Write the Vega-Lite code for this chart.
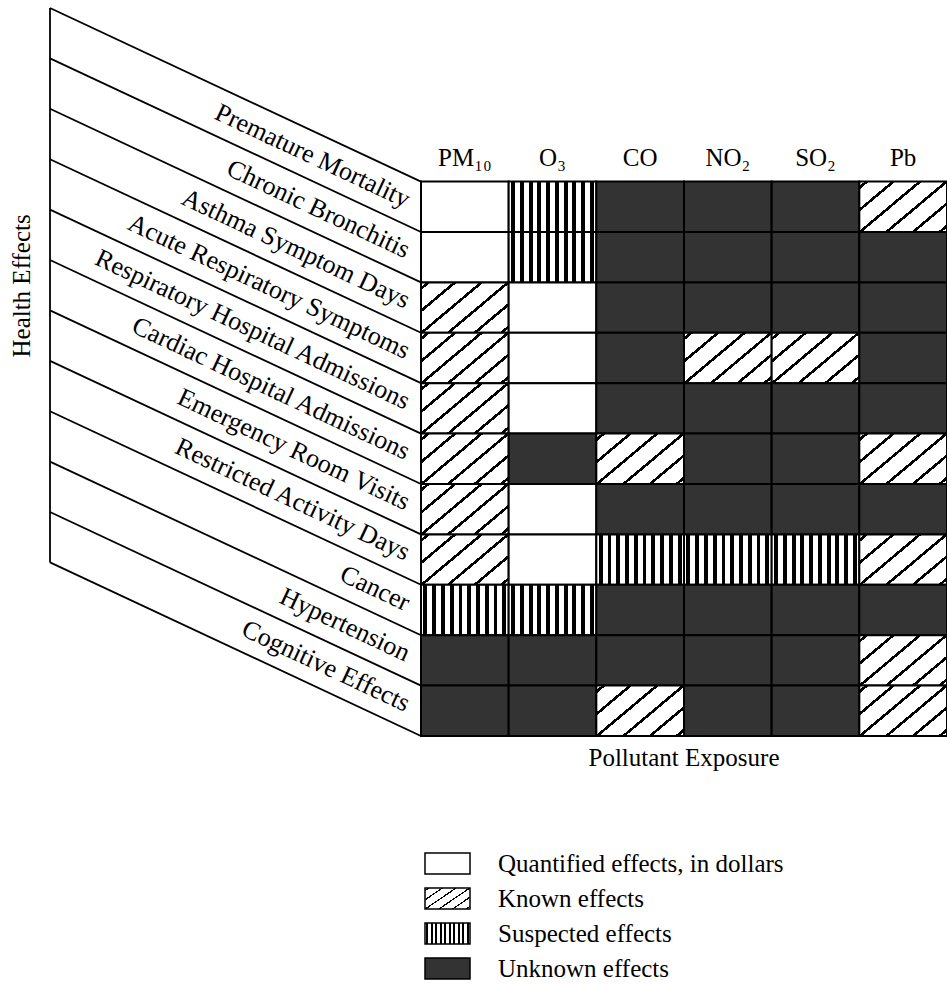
{
  "$schema": "https://vega.github.io/schema/vega-lite/v6.json",
  "width": 897,
  "height": 728,
  "autosize": {"type": "none"},
  "padding": {"left": 50, "top": 8, "right": 0, "bottom": 249},
  "background": "white",
  "config": {
    "view": {"stroke": null},
    "font": "Liberation Serif",
    "text": {"font": "Liberation Serif", "fontSize": 25, "color": "black"}
  },
  "datasets": {
    "grid": [
      {"effect": "Premature Mortality", "PM10": "Q", "O3": "S", "CO": "U", "NO2": "U", "SO2": "U", "Pb": "K"},
      {"effect": "Chronic Bronchitis", "PM10": "Q", "O3": "S", "CO": "U", "NO2": "U", "SO2": "U", "Pb": "U"},
      {"effect": "Asthma Symptom Days", "PM10": "K", "O3": "Q", "CO": "U", "NO2": "U", "SO2": "U", "Pb": "U"},
      {"effect": "Acute Respiratory Symptoms", "PM10": "K", "O3": "Q", "CO": "U", "NO2": "K", "SO2": "K", "Pb": "U"},
      {"effect": "Respiratory Hospital Admissions", "PM10": "K", "O3": "Q", "CO": "U", "NO2": "U", "SO2": "U", "Pb": "U"},
      {"effect": "Cardiac Hospital Admissions", "PM10": "K", "O3": "U", "CO": "K", "NO2": "U", "SO2": "U", "Pb": "K"},
      {"effect": "Emergency Room Visits", "PM10": "K", "O3": "Q", "CO": "U", "NO2": "U", "SO2": "U", "Pb": "U"},
      {"effect": "Restricted Activity Days", "PM10": "K", "O3": "Q", "CO": "S", "NO2": "S", "SO2": "S", "Pb": "K"},
      {"effect": "Cancer", "PM10": "S", "O3": "S", "CO": "U", "NO2": "U", "SO2": "U", "Pb": "U"},
      {"effect": "Hypertension", "PM10": "U", "O3": "U", "CO": "U", "NO2": "U", "SO2": "U", "Pb": "K"},
      {"effect": "Cognitive Effects", "PM10": "U", "O3": "U", "CO": "K", "NO2": "U", "SO2": "U", "Pb": "K"}
    ],
    "cols": [
      {"pollutant": "PM10", "label": "PM₁₀"},
      {"pollutant": "O3", "label": "O₃"},
      {"pollutant": "CO", "label": "CO"},
      {"pollutant": "NO2", "label": "NO₂"},
      {"pollutant": "SO2", "label": "SO₂"},
      {"pollutant": "Pb", "label": "Pb"}
    ],
    "edges": [
      {"k": 0, "yl": -3.444, "yr": 0},
      {"k": 1, "yl": -2.444, "yr": 1},
      {"k": 2, "yl": -1.444, "yr": 2},
      {"k": 3, "yl": -0.444, "yr": 3},
      {"k": 4, "yl": 0.556, "yr": 4},
      {"k": 5, "yl": 1.556, "yr": 5},
      {"k": 6, "yl": 2.556, "yr": 6},
      {"k": 7, "yl": 3.556, "yr": 7},
      {"k": 8, "yl": 4.556, "yr": 8},
      {"k": 9, "yl": 5.556, "yr": 9},
      {"k": 10, "yl": 6.556, "yr": 10},
      {"k": 11, "yl": 7.556, "yr": 11}
    ]
  },
  "resolve": {"scale": {"x": "independent", "y": "independent"}},
  "layer": [
    {
      "data": {"name": "grid"},
      "transform": [{"fold": ["PM10", "O3", "CO", "NO2", "SO2", "Pb"], "as": ["pollutant", "status"]}],
      "mark": {"type": "rect", "stroke": "black", "strokeWidth": 2},
      "encoding": {
        "x": {"field": "pollutant", "type": "nominal", "axis": null,
          "scale": {"type": "band", "domain": ["~1", "~2", "~3", "~4", "PM10", "O3", "CO", "NO2", "SO2", "Pb"], "paddingInner": 0, "paddingOuter": 0.116, "align": 1, "round": false}},
        "y": {"field": "effect", "type": "nominal", "axis": null,
          "scale": {"type": "band", "domain": ["~1", "~2", "~3", "Premature Mortality", "Chronic Bronchitis", "Asthma Symptom Days", "Acute Respiratory Symptoms", "Respiratory Hospital Admissions", "Cardiac Hospital Admissions", "Emergency Room Visits", "Restricted Activity Days", "Cancer", "Hypertension", "Cognitive Effects"], "paddingInner": 0, "paddingOuter": 0.222, "align": 1, "round": false}},
        "fill": {"field": "status", "type": "nominal",
          "scale": {"domain": ["Q", "K", "S", "U"],
            "range": [
              {"expr": "'#ffffff'"},
              {"expr": "{gradient:'linear',x1:0,y1:0,x2:1.147,y2:0.786,stops:[{offset:0,color:'#fff'},{offset:0.036,color:'#fff'},{offset:0.036,color:'#000'},{offset:0.064,color:'#000'},{offset:0.064,color:'#fff'},{offset:0.216,color:'#fff'},{offset:0.216,color:'#000'},{offset:0.244,color:'#000'},{offset:0.244,color:'#fff'},{offset:0.396,color:'#fff'},{offset:0.396,color:'#000'},{offset:0.424,color:'#000'},{offset:0.424,color:'#fff'},{offset:0.576,color:'#fff'},{offset:0.576,color:'#000'},{offset:0.604,color:'#000'},{offset:0.604,color:'#fff'},{offset:0.756,color:'#fff'},{offset:0.756,color:'#000'},{offset:0.784,color:'#000'},{offset:0.784,color:'#fff'},{offset:0.936,color:'#fff'},{offset:0.936,color:'#000'},{offset:0.964,color:'#000'},{offset:0.964,color:'#fff'},{offset:1,color:'#fff'}]}"},
              {"expr": "{gradient:'linear',x1:0,y1:0,x2:1,y2:0,stops:[{offset:0,color:'#fff'},{offset:0.028,color:'#fff'},{offset:0.028,color:'#000'},{offset:0.072,color:'#000'},{offset:0.072,color:'#fff'},{offset:0.128,color:'#fff'},{offset:0.128,color:'#000'},{offset:0.172,color:'#000'},{offset:0.172,color:'#fff'},{offset:0.228,color:'#fff'},{offset:0.228,color:'#000'},{offset:0.272,color:'#000'},{offset:0.272,color:'#fff'},{offset:0.328,color:'#fff'},{offset:0.328,color:'#000'},{offset:0.372,color:'#000'},{offset:0.372,color:'#fff'},{offset:0.428,color:'#fff'},{offset:0.428,color:'#000'},{offset:0.472,color:'#000'},{offset:0.472,color:'#fff'},{offset:0.528,color:'#fff'},{offset:0.528,color:'#000'},{offset:0.572,color:'#000'},{offset:0.572,color:'#fff'},{offset:0.628,color:'#fff'},{offset:0.628,color:'#000'},{offset:0.672,color:'#000'},{offset:0.672,color:'#fff'},{offset:0.728,color:'#fff'},{offset:0.728,color:'#000'},{offset:0.772,color:'#000'},{offset:0.772,color:'#fff'},{offset:0.828,color:'#fff'},{offset:0.828,color:'#000'},{offset:0.872,color:'#000'},{offset:0.872,color:'#fff'},{offset:0.928,color:'#fff'},{offset:0.928,color:'#000'},{offset:0.972,color:'#000'},{offset:0.972,color:'#fff'},{offset:1,color:'#fff'}]}"},
              {"expr": "'#333333'"}
            ]},
          "legend": {
            "title": null,
            "orient": "none",
            "legendX": 385,
            "legendY": 843,
            "padding": 0,
            "symbolType": "M-2.143,-1H2.143V1H-2.143Z",
            "symbolSize": 441,
            "symbolStrokeColor": "black",
            "symbolStrokeWidth": 1.5,
            "labelFont": "Liberation Serif",
            "labelFontSize": 25,
            "labelColor": "black",
            "labelOffset": 38,
            "labelLimit": 600,
            "rowPadding": 8,
            "labelExpr": "{'Q':'Quantified effects, in dollars','K':'Known effects','S':'Suspected effects','U':'Unknown effects'}[datum.label]",
            "encode": {
              "symbols": {
                "update": {
                  "stroke": {"value": "black"},
                  "strokeWidth": {"value": 1.5},
                  "fill": [
                    {"test": "datum.value === 'K'", "value": {"gradient": "linear", "x1": 0, "y1": 0, "x2": 1.204, "y2": 0.562, "stops": [
                      {"offset": 0, "color": "#fff"}, {"offset": 0.17, "color": "#fff"}, {"offset": 0.17, "color": "#000"}, {"offset": 0.23, "color": "#000"}, {"offset": 0.23, "color": "#fff"},
                      {"offset": 0.47, "color": "#fff"}, {"offset": 0.47, "color": "#000"}, {"offset": 0.53, "color": "#000"}, {"offset": 0.53, "color": "#fff"},
                      {"offset": 0.77, "color": "#fff"}, {"offset": 0.77, "color": "#000"}, {"offset": 0.83, "color": "#000"}, {"offset": 0.83, "color": "#fff"}, {"offset": 1, "color": "#fff"}]}},
                    {"test": "datum.value === 'S'", "value": {"gradient": "linear", "x1": 0, "y1": 0, "x2": 1, "y2": 0, "stops": [
                      {"offset": 0, "color": "#fff"}, {"offset": 0.065, "color": "#fff"}, {"offset": 0.065, "color": "#000"}, {"offset": 0.185, "color": "#000"}, {"offset": 0.185, "color": "#fff"},
                      {"offset": 0.315, "color": "#fff"}, {"offset": 0.315, "color": "#000"}, {"offset": 0.435, "color": "#000"}, {"offset": 0.435, "color": "#fff"},
                      {"offset": 0.565, "color": "#fff"}, {"offset": 0.565, "color": "#000"}, {"offset": 0.685, "color": "#000"}, {"offset": 0.685, "color": "#fff"},
                      {"offset": 0.815, "color": "#fff"}, {"offset": 0.815, "color": "#000"}, {"offset": 0.935, "color": "#000"}, {"offset": 0.935, "color": "#fff"}, {"offset": 1, "color": "#fff"}]}},
                    {"test": "datum.value === 'U'", "value": "#333333"},
                    {"value": "#ffffff"}
                  ]
                }
              }
            }
          }
        }
      }
    },
    {
      "data": {"name": "grid"},
      "mark": {"type": "text", "angle": 25.1, "align": "right", "baseline": "middle", "dx": -14, "fontSize": 26, "font": "Liberation Serif"},
      "encoding": {
        "x": {"datum": 0, "type": "quantitative", "axis": null, "scale": {"domain": [-4.232, 6], "nice": false, "zero": false}},
        "y": {"field": "effect", "type": "nominal", "axis": null, "bandPosition": 0.5,
          "scale": {"type": "band", "domain": ["~1", "~2", "~3", "Premature Mortality", "Chronic Bronchitis", "Asthma Symptom Days", "Acute Respiratory Symptoms", "Respiratory Hospital Admissions", "Cardiac Hospital Admissions", "Emergency Room Visits", "Restricted Activity Days", "Cancer", "Hypertension", "Cognitive Effects"], "paddingInner": 0, "paddingOuter": 0.222, "align": 1, "round": false}},
        "text": {"field": "effect"}
      }
    },
    {
      "data": {"name": "edges"},
      "mark": {"type": "rule", "strokeWidth": 1.8, "color": "black"},
      "encoding": {
        "x": {"datum": -4.232, "type": "quantitative", "axis": null, "scale": {"domain": [-4.232, 6], "nice": false, "zero": false}},
        "x2": {"datum": 0},
        "y": {"field": "yl", "type": "quantitative", "axis": null, "scale": {"domain": [-3.444, 11], "reverse": true, "nice": false, "zero": false}},
        "y2": {"field": "yr"}
      }
    },
    {
      "data": {"values": [{"part": "left edge"}]},
      "mark": {"type": "rule", "strokeWidth": 1.8, "color": "black"},
      "encoding": {
        "x": {"datum": -4.232, "type": "quantitative", "axis": null, "scale": {"domain": [-4.232, 6], "nice": false, "zero": false}},
        "y": {"datum": -3.444, "type": "quantitative", "axis": null, "scale": {"domain": [-3.444, 11], "reverse": true, "nice": false, "zero": false}},
        "y2": {"datum": 7.556}
      }
    },
    {
      "data": {"name": "cols"},
      "mark": {"type": "text", "align": "center", "baseline": "alphabetic", "fontSize": 25, "font": "Liberation Serif"},
      "encoding": {
        "x": {"field": "pollutant", "type": "nominal", "axis": null, "bandPosition": 0.5,
          "scale": {"type": "band", "domain": ["~1", "~2", "~3", "~4", "PM10", "O3", "CO", "NO2", "SO2", "Pb"], "paddingInner": 0, "paddingOuter": 0.116, "align": 1, "round": false}},
        "y": {"datum": -0.3, "type": "quantitative", "axis": null, "scale": {"domain": [-3.444, 11], "reverse": true, "nice": false, "zero": false}},
        "text": {"field": "label"}
      }
    },
    {
      "data": {"values": [{"title": "Health Effects"}]},
      "mark": {"type": "text", "angle": 270, "align": "center", "baseline": "middle", "fontSize": 25, "font": "Liberation Serif"},
      "encoding": {
        "x": {"datum": -4.551, "type": "quantitative", "axis": null, "scale": {"domain": [-4.232, 6], "nice": false, "zero": false}},
        "y": {"datum": 2.07, "type": "quantitative", "axis": null, "scale": {"domain": [-3.444, 11], "reverse": true, "nice": false, "zero": false}},
        "text": {"field": "title"}
      }
    },
    {
      "data": {"values": [{"title": "Pollutant Exposure"}]},
      "mark": {"type": "text", "align": "center", "baseline": "alphabetic", "fontSize": 25, "font": "Liberation Serif"},
      "encoding": {
        "x": {"datum": 3, "type": "quantitative", "axis": null, "scale": {"domain": [-4.232, 6], "nice": false, "zero": false}},
        "y": {"datum": 11.6, "type": "quantitative", "axis": null, "scale": {"domain": [-3.444, 11], "reverse": true, "nice": false, "zero": false}},
        "text": {"field": "title"}
      }
    }
  ]
}
